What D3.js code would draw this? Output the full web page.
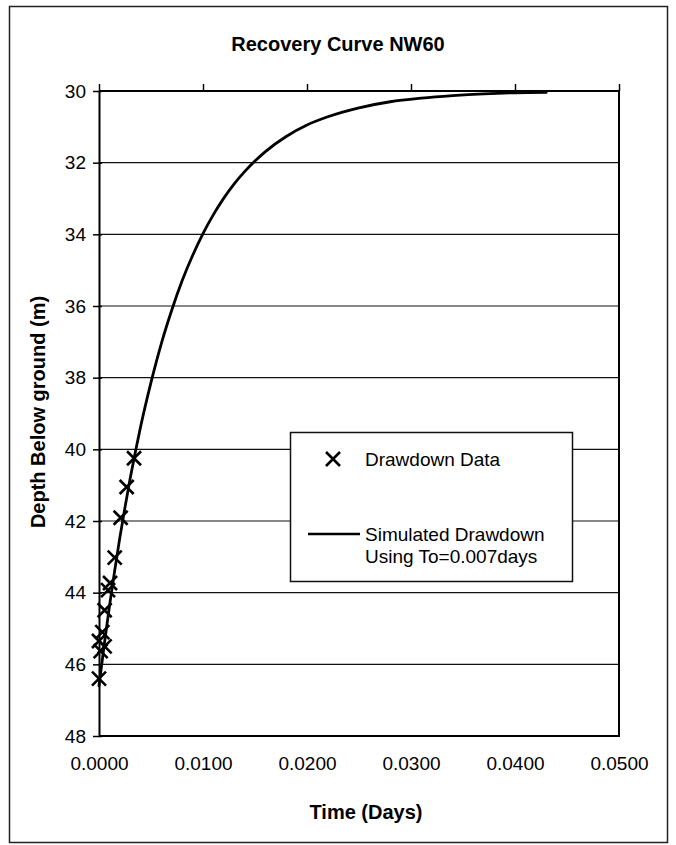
<!DOCTYPE html>
<html>
<head>
<meta charset="utf-8">
<script src="https://cdn.jsdelivr.net/npm/d3@7"></script>
<style>
  html, body { margin: 0; padding: 0; background: #fff; }
  svg { display: block; font-family: "Liberation Sans", Arial, sans-serif; }
</style>
</head>
<body>
<svg id="chart" width="676" height="845"></svg>
<script>
// Measured recovery (drawdown) readings: time in days, depth below ground in metres
const dataTime  = [0.00337, 0.00266, 0.00208, 0.00151, 0.00106, 0.00087, 0.00054, 0.00032, 0.00000, 0.00054, 0.00016, 0.00000];
const dataDepth = [40.25,   41.05,   41.91,   43.02,   43.73,   43.93,   44.49,   45.10,   45.35,   45.50,   45.63,   46.40];

// Simulated drawdown curve (To = 0.007 days)
const simTime  = [0, 0.0005, 0.001, 0.0015, 0.002, 0.0025, 0.003, 0.0035, 0.004, 0.005, 0.006, 0.007, 0.008, 0.009, 0.010, 0.011, 0.012, 0.013, 0.014, 0.016, 0.018, 0.020, 0.022, 0.025, 0.028, 0.031, 0.034, 0.037, 0.040, 0.043];
const simDepth = [46.60, 45.46, 44.39, 43.40, 42.47, 41.62, 40.81, 40.07, 39.37, 38.13, 37.04, 36.11, 35.29, 34.59, 33.98, 33.45, 32.99, 32.59, 32.25, 31.69, 31.27, 30.95, 30.72, 30.47, 30.30, 30.20, 30.13, 30.08, 30.05, 30.04];

// Axis ticks
const xTicks = [0, 0.01, 0.02, 0.03, 0.04, 0.05];
const yTicks = [30, 32, 34, 36, 38, 40, 42, 44, 46, 48];

const titleText = "Recovery Curve NW60";
const xTitle = "Time (Days)";
const yTitle = "Depth Below ground (m)";
const legendLabels = ["Drawdown Data", "Simulated Drawdown", "Using To=0.007days"];

const svg = d3.select("#chart");
const plot = { left: 99, right: 619, top: 91, bottom: 736 };

const x = d3.scaleLinear().domain([0, 0.05]).range([plot.left, plot.right]);
const y = d3.scaleLinear().domain([30, 48]).range([plot.top, plot.bottom]);

// Outer chart frame
svg.append("rect")
  .attr("x", 9.5).attr("y", 6.5).attr("width", 658).attr("height", 836)
  .attr("fill", "none").attr("stroke", "#222").attr("stroke-width", 1.5);

// Horizontal gridlines
svg.append("g")
  .selectAll("line")
  .data(yTicks.filter(d => d !== 30 && d !== 48))
  .join("line")
  .attr("x1", plot.left).attr("x2", plot.right)
  .attr("y1", d => y(d)).attr("y2", d => y(d))
  .attr("stroke", "#111").attr("stroke-width", 1.2);

// Plot area border (top, right, bottom)
svg.append("path")
  .attr("d", `M${plot.left},${plot.top}H${plot.right}V${plot.bottom}H${plot.left}`)
  .attr("fill", "none").attr("stroke", "#000").attr("stroke-width", 2);

// Top axis: tick marks only
const topAxis = svg.append("g")
  .attr("transform", `translate(0,${plot.top})`)
  .call(d3.axisTop(x).tickValues(xTicks).tickSize(7).tickSizeOuter(0).tickFormat(""));
topAxis.select(".domain").remove();
topAxis.selectAll("line").attr("stroke", "#000").attr("stroke-width", 1.5);

// Bottom axis: labels only
const bottomAxis = svg.append("g")
  .attr("transform", `translate(0,${plot.bottom})`)
  .call(d3.axisBottom(x).tickValues(xTicks).tickSize(0).tickPadding(21).tickFormat(d3.format(".4f")));
bottomAxis.select(".domain").remove();
bottomAxis.selectAll("text")
  .attr("font-family", "'Liberation Sans', Arial, sans-serif")
  .attr("font-size", 19).attr("fill", "#000");

// Left axis
const leftAxis = svg.append("g")
  .attr("transform", `translate(${plot.left},0)`)
  .call(d3.axisLeft(y).tickValues(yTicks).tickSize(6).tickSizeOuter(0).tickPadding(7).tickFormat(d3.format("d")));
leftAxis.select(".domain").attr("stroke", "#000").attr("stroke-width", 2);
leftAxis.selectAll(".tick line").attr("x1", 3).attr("stroke", "#000").attr("stroke-width", 1.5);
leftAxis.selectAll("text")
  .attr("font-family", "'Liberation Sans', Arial, sans-serif")
  .attr("font-size", 19).attr("fill", "#000");

// Simulated drawdown curve
const line = d3.line()
  .x((d, i) => x(simTime[i]))
  .y((d, i) => y(simDepth[i]))
  .curve(d3.curveMonotoneX);
svg.append("path")
  .datum(simTime)
  .attr("d", line)
  .attr("fill", "none").attr("stroke", "#000").attr("stroke-width", 2.8)
  .attr("stroke-linejoin", "round").attr("stroke-linecap", "round");

// Drawdown data markers (x symbols)
const cross = "M-7,-7L7,7M-7,7L7,-7";
svg.append("g")
  .selectAll("path")
  .data(dataTime)
  .join("path")
  .attr("transform", (d, i) => `translate(${x(d)},${y(dataDepth[i])})`)
  .attr("d", cross)
  .attr("fill", "none").attr("stroke", "#000").attr("stroke-width", 2.6);

// Title
svg.append("text")
  .attr("x", 338).attr("y", 51)
  .attr("text-anchor", "middle")
  .attr("font-size", 20).attr("font-weight", "bold")
  .text(titleText);

// Axis titles
svg.append("text")
  .attr("x", 366).attr("y", 819)
  .attr("text-anchor", "middle")
  .attr("font-size", 20).attr("font-weight", "bold")
  .text(xTitle);

svg.append("text")
  .attr("transform", "translate(45,412) rotate(-90)")
  .attr("text-anchor", "middle")
  .attr("font-size", 20).attr("font-weight", "bold")
  .text(yTitle);

// Legend
const legend = svg.append("g");
legend.append("rect")
  .attr("x", 290.5).attr("y", 432.5).attr("width", 282).attr("height", 149)
  .attr("fill", "#fff").attr("stroke", "#111").attr("stroke-width", 1.5);
legend.append("path")
  .attr("transform", "translate(333,459)")
  .attr("d", cross)
  .attr("fill", "none").attr("stroke", "#000").attr("stroke-width", 2.6);
legend.append("text")
  .attr("x", 365).attr("y", 466)
  .attr("font-size", 19)
  .text(legendLabels[0]);
legend.append("line")
  .attr("x1", 308).attr("x2", 360).attr("y1", 534).attr("y2", 534)
  .attr("stroke", "#000").attr("stroke-width", 2.6);
legend.append("text")
  .attr("x", 365).attr("y", 541)
  .attr("font-size", 19)
  .text(legendLabels[1]);
legend.append("text")
  .attr("x", 365).attr("y", 563)
  .attr("font-size", 19)
  .text(legendLabels[2]);
</script>
</body>
</html>
